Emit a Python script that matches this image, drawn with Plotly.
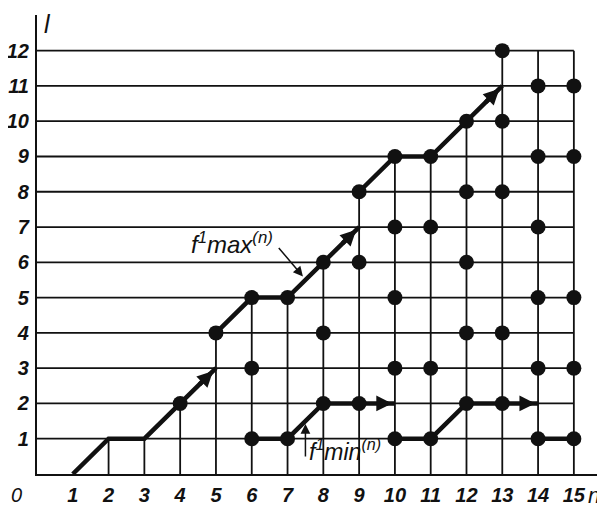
import plotly.graph_objects as go

# ---- data ----
n_ticks = list(range(1, 16))
l_ticks = list(range(1, 13))
# top of the vertical grid line for each n = 1..15
col_top = [0, 1, 1, 2, 4, 5, 5, 6, 8, 9, 9, 10, 12, 12, 12]

# dots (n, l)
dots_n = [4, 5, 6, 6, 6, 7, 7, 8, 8, 8, 9, 9, 9,
          10, 10, 10, 10, 10, 11, 11, 11, 11,
          12, 12, 12, 12, 12, 13, 13, 13, 13, 13,
          14, 14, 14, 14, 14, 14, 15, 15, 15, 15, 15]
dots_l = [2, 4, 1, 3, 5, 1, 5, 2, 4, 6, 2, 6, 8,
          1, 3, 5, 7, 9, 1, 3, 7, 9,
          2, 4, 6, 8, 10, 2, 4, 8, 10, 12,
          1, 3, 5, 7, 9, 11, 1, 3, 5, 9, 11]

# f1max(n) path pieces (each ends in an arrow)
fmax_pieces_n = [[1, 2, 3, 4, 5], [5, 6, 7, 8, 9], [9, 10, 11, 12, 13]]
fmax_pieces_l = [[0, 1, 1, 2, 3], [4, 5, 5, 6, 7], [8, 9, 9, 10, 11]]
# f1min(n) path pieces (the last one has no arrow)
fmin_pieces_n = [[6, 7, 8, 9, 10], [10, 11, 12, 13, 14], [14, 15]]
fmin_pieces_l = [[1, 1, 2, 2, 2], [1, 1, 2, 2, 2], [1, 1]]
fmin_arrow = [True, True, False]

INK = "#111111"
FONT = "Liberation Sans"
X_MAX = 15.87
Y_MAX = 13.01

fig = go.Figure()

# horizontal grid lines
hx, hy = [], []
for l in l_ticks:
    hx += [0, 15, None]
    hy += [l, l, None]
fig.add_trace(go.Scatter(x=hx, y=hy, mode="lines",
                         line=dict(color=INK, width=1.8), hoverinfo="skip"))
# vertical grid lines
vx, vy = [], []
for n, top in zip(n_ticks, col_top):
    if top > 0:
        vx += [n, n, None]
        vy += [0, top, None]
fig.add_trace(go.Scatter(x=vx, y=vy, mode="lines",
                         line=dict(color=INK, width=1.8), hoverinfo="skip"))

def join(pieces):
    out = []
    for p in pieces:
        out += p + [None]
    return out

fig.add_trace(go.Scatter(x=join(fmax_pieces_n), y=join(fmax_pieces_l), mode="lines",
                         line=dict(color=INK, width=4.5), hoverinfo="skip"))
fig.add_trace(go.Scatter(x=join(fmin_pieces_n), y=join(fmin_pieces_l), mode="lines",
                         line=dict(color=INK, width=4.5), hoverinfo="skip"))

fig.add_trace(go.Scatter(x=dots_n, y=dots_l, mode="markers",
                         marker=dict(color=INK, size=15, line=dict(width=0)),
                         hoverinfo="skip"))

annotations = []
# arrowheads on the paths
def arrow_for(pn, pl):
    return dict(x=pn[-1] - 0.08 * (pn[-1] - pn[-2]), y=pl[-1] - 0.08 * (pl[-1] - pl[-2]),
                ax=pn[-2] + 0.5 * (pn[-1] - pn[-2]),
                ay=pl[-2] + 0.5 * (pl[-1] - pl[-2]),
                xref="x", yref="y", axref="x", ayref="y", text="",
                showarrow=True, arrowhead=2, arrowsize=0.7, arrowwidth=4.5,
                arrowcolor=INK, standoff=0)

for pn, pl in zip(fmax_pieces_n, fmax_pieces_l):
    annotations.append(arrow_for(pn, pl))
for pn, pl, a in zip(fmin_pieces_n, fmin_pieces_l, fmin_arrow):
    if a:
        annotations.append(arrow_for(pn, pl))

# labels
annotations.append(dict(x=5.45, y=6.55, xref="x", yref="y",
                        text="f<sup>1</sup>max<sup>(n)</sup>", showarrow=False,
                        font=dict(family=FONT, size=24, color=INK, style="italic")))
annotations.append(dict(x=7.43, y=5.6, ax=6.72, ay=6.45, xref="x", yref="y",
                        axref="x", ayref="y", text="", showarrow=True,
                        arrowhead=2, arrowsize=1.3, arrowwidth=1.5, arrowcolor=INK))
annotations.append(dict(x=8.6, y=0.68, xref="x", yref="y",
                        text="f<sup>1</sup>min<sup>(n)</sup>", showarrow=False,
                        font=dict(family=FONT, size=23, color=INK, style="italic")))
annotations.append(dict(x=7.5, y=1.42, ax=7.5, ay=0.45, xref="x", yref="y",
                        axref="x", ayref="y", text="", showarrow=True,
                        arrowhead=2, arrowsize=1.3, arrowwidth=1.5, arrowcolor=INK))
# axis names and origin (paper coords: outside the axis ranges)
annotations.append(dict(x=-0.79 / X_MAX, y=-0.6 / Y_MAX, xref="paper", yref="paper",
                        xanchor="left", yanchor="middle",
                        text="0", showarrow=False,
                        font=dict(family=FONT, size=20, color=INK, style="italic")))
annotations.append(dict(x=15.33 / X_MAX, y=-0.6 / Y_MAX, xref="paper", yref="paper",
                        text="n", showarrow=False, xanchor="left", yanchor="middle",
                        font=dict(family=FONT, size=22, color=INK, style="italic")))
annotations.append(dict(x=0.28 / X_MAX, y=13.2 / Y_MAX, xref="paper", yref="paper",
                        xanchor="center", yanchor="top",
                        text="l", showarrow=False,
                        font=dict(family=FONT, size=25, color=INK, style="italic")))

# page body has an 8px margin, so the figure is shifted/shrunk to keep the
# plot area where the reference has it
fig.update_layout(
    width=597, height=505,
    margin=dict(l=29, r=0, t=7, b=39),
    paper_bgcolor="white", plot_bgcolor="white",
    showlegend=False,
    annotations=annotations,
    xaxis=dict(range=[0, X_MAX], tickvals=n_ticks, ticktext=[str(v) for v in n_ticks],
               showgrid=False, zeroline=False, showline=True, linecolor=INK, linewidth=2.2,
               ticks="", ticklabelstandoff=2, automargin=False,
               tickfont=dict(family=FONT, size=20, color=INK, style="italic", weight="bold")),
    yaxis=dict(range=[0, Y_MAX], tickvals=l_ticks, ticktext=[str(v) for v in l_ticks],
               showgrid=False, zeroline=False, showline=True, linecolor=INK, linewidth=2.2,
               ticks="", ticklabelstandoff=2, automargin=False,
               tickfont=dict(family=FONT, size=20, color=INK, style="italic", weight="bold")),
)

fig.write_html("out.html")
